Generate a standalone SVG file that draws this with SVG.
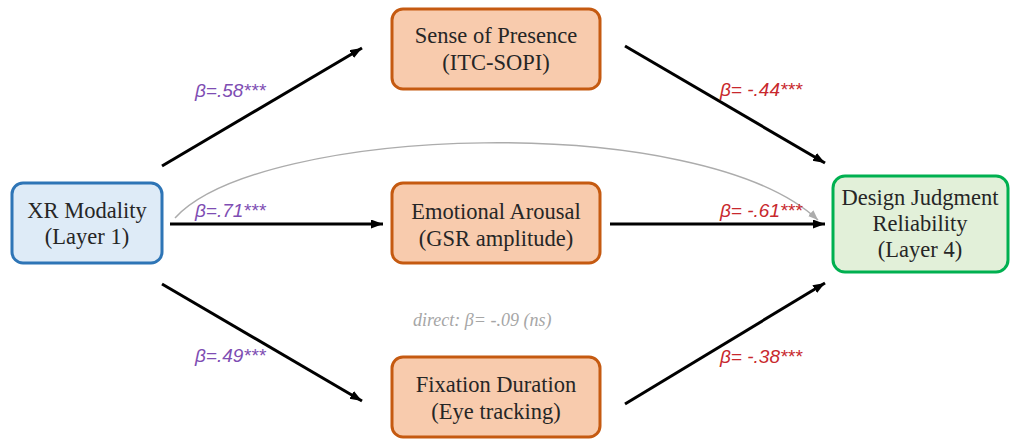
<svg xmlns="http://www.w3.org/2000/svg" width="1020" height="439" viewBox="0 0 1020 439">
<style>
.node text{font-family:"Liberation Serif",serif;font-size:22.5px;fill:#262626;text-anchor:middle}
.orange rect{fill:#f8cbad;stroke:#c55a11;stroke-width:3}
.blue rect{fill:#deebf7;stroke:#2e75b6;stroke-width:3}
.green rect{fill:#e2f0d9;stroke:#00b050;stroke-width:3}
.arrow{stroke:#000;stroke-width:3;fill:none;marker-end:url(#ah)}
.curve{stroke:#acacac;stroke-width:1.5;fill:none;marker-end:url(#ahg)}
.lbl{font-family:"Liberation Sans",sans-serif;font-style:italic;font-size:19px}
.p{fill:#7e4db3}
.r{fill:#c8282d}
.direct{font-family:"Liberation Serif",serif;font-style:italic;font-size:18px;fill:#a6a6a6}
</style>
<defs>
<marker id="ah" markerUnits="userSpaceOnUse" markerWidth="14" markerHeight="10" refX="12" refY="4.5" orient="auto"><path d="M0,0 L12,4.5 L0,9 z" fill="#000"/></marker>
<marker id="ahg" markerUnits="userSpaceOnUse" markerWidth="12" markerHeight="9" refX="10" refY="4" orient="auto"><path d="M0,0 L10,4 L0,8 z" fill="#acacac"/></marker>
</defs>
<rect width="1020" height="439" fill="#fff"/>
<g id="connectors">
<path class="curve" d="M175,218 C260,125 700,110 818,220"/>
<line class="arrow" x1="162" y1="166" x2="362" y2="48"/>
<line class="arrow" x1="625" y1="46" x2="825" y2="163"/>
<line class="arrow" x1="170" y1="224" x2="383" y2="224"/>
<line class="arrow" x1="610" y1="224" x2="825" y2="224"/>
<line class="arrow" x1="162" y1="284" x2="362" y2="401"/>
<line class="arrow" x1="625" y1="404" x2="825" y2="283"/>
</g>
<g id="labels">
<text class="lbl p" x="195" y="97">β=.58***</text>
<text class="lbl r" x="720" y="96">β= -.44***</text>
<text class="lbl p" x="195" y="217">β=.71***</text>
<text class="lbl r" x="720" y="217">β= -.61***</text>
<text class="lbl p" x="195" y="362">β=.49***</text>
<text class="lbl r" x="720" y="363">β= -.38***</text>
<text class="direct" x="413" y="326">direct: β= -.09 (ns)</text>
</g>
<g id="xr" class="node blue">
<rect x="12" y="183" width="150" height="80" rx="11"/>
<text x="87" y="218">XR Modality</text>
<text x="87" y="244">(Layer 1)</text>
</g>
<g id="presence" class="node orange">
<rect x="392" y="9" width="208" height="80" rx="11"/>
<text x="496" y="43">Sense of Presence</text>
<text x="496" y="70">(ITC-SOPI)</text>
</g>
<g id="arousal" class="node orange">
<rect x="392" y="183" width="208" height="80" rx="11"/>
<text x="496" y="219">Emotional Arousal</text>
<text x="496" y="246">(GSR amplitude)</text>
</g>
<g id="fixation" class="node orange">
<rect x="392" y="357" width="208" height="80" rx="11"/>
<text x="496" y="392">Fixation Duration</text>
<text x="496" y="419">(Eye tracking)</text>
</g>
<g id="djr" class="node green">
<rect x="833" y="176" width="175" height="96" rx="12"/>
<text x="920" y="205">Design Judgment</text>
<text x="920" y="231">Reliability</text>
<text x="920" y="257">(Layer 4)</text>
</g>
</svg>
